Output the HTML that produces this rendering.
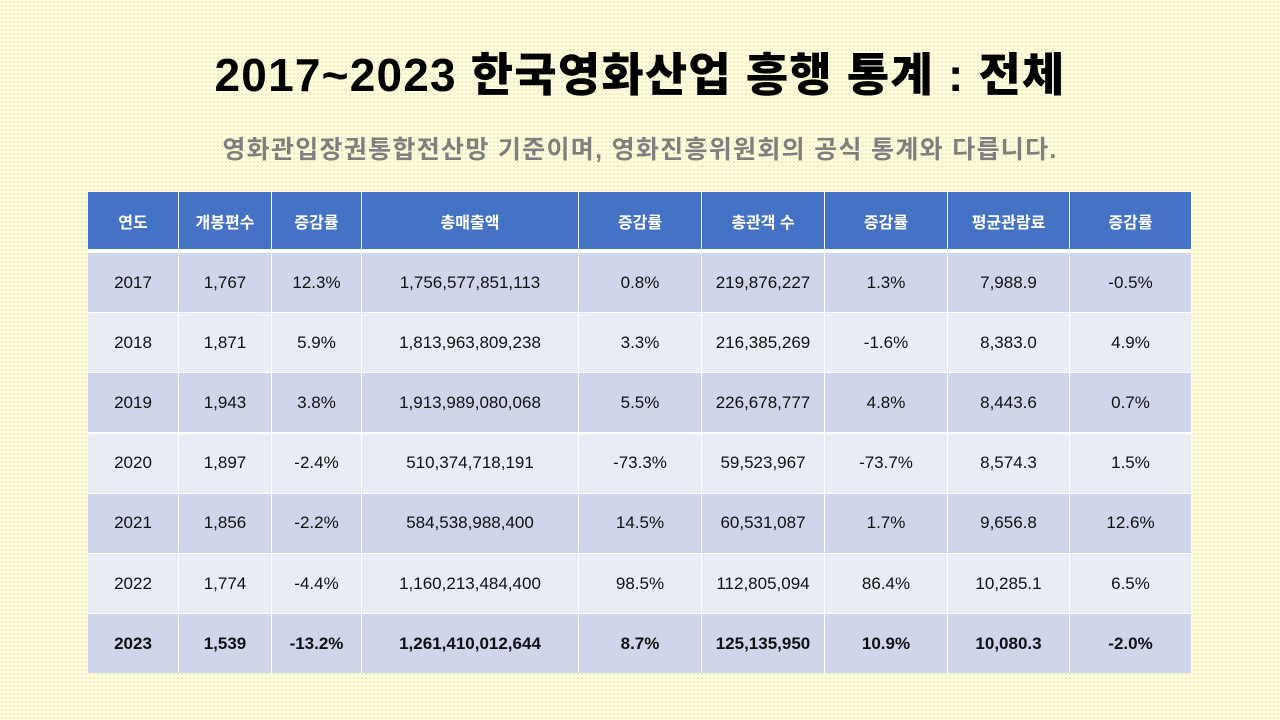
<!DOCTYPE html>
<html><head><meta charset="utf-8">
<style>
body{margin:0;width:1280px;height:720px;overflow:hidden;font-family:"Liberation Sans","Noto Sans CJK KR",sans-serif;
background-color:#fdfbe0;background-image:radial-gradient(#f0eaa8 0.8px,transparent 1px);background-size:4px 4px;position:relative}
h1{position:absolute;top:39px;left:0;width:1280px;margin:0;text-align:center;font-size:46px;font-weight:900;color:#000;letter-spacing:1.2px}
.sub{position:absolute;top:130px;left:0;width:1280px;text-align:center;font-size:25px;font-weight:bold;color:#7f7f7f;letter-spacing:1.3px}
.cell{position:absolute;display:flex;align-items:center;justify-content:center;font-size:17px;color:#111;box-sizing:border-box}
.hd{background:#4472c4;color:#fff;font-weight:bold;font-size:16px}
#tbl{position:absolute;left:88px;top:192px;width:1103px;height:481px;background:#fff}
</style></head><body>
<h1>2017~2023 한국영화산업 흥행 통계 : 전체</h1>
<div class="sub">영화관입장권통합전산망 기준이며, 영화진흥위원회의 공식 통계와 다릅니다.</div>
<div id="tbl"></div>
<script>
const headers=["연도","개봉편수","증감률","총매출액","증감률","총관객 수","증감률","평균관람료","증감률"];
const years=["2017","2018","2019","2020","2021","2022","2023"];
const releases=["1,767","1,871","1,943","1,897","1,856","1,774","1,539"];
const releaseChg=["12.3%","5.9%","3.8%","-2.4%","-2.2%","-4.4%","-13.2%"];
const revenue=["1,756,577,851,113","1,813,963,809,238","1,913,989,080,068","510,374,718,191","584,538,988,400","1,160,213,484,400","1,261,410,012,644"];
const revenueChg=["0.8%","3.3%","5.5%","-73.3%","14.5%","98.5%","8.7%"];
const audience=["219,876,227","216,385,269","226,678,777","59,523,967","60,531,087","112,805,094","125,135,950"];
const audienceChg=["1.3%","-1.6%","4.8%","-73.7%","1.7%","86.4%","10.9%"];
const avgFee=["7,988.9","8,383.0","8,443.6","8,574.3","9,656.8","10,285.1","10,080.3"];
const avgFeeChg=["-0.5%","4.9%","0.7%","1.5%","12.6%","6.5%","-2.0%"];
const cols=[years,releases,releaseChg,revenue,revenueChg,audience,audienceChg,avgFee,avgFeeChg];
const xs=[0,90,183,273,490,613,736,859,981,1103];
const t=document.getElementById('tbl');
function mk(x,y,w,h,txt,cls,bg){
  const d=document.createElement('div');
  d.className='cell '+cls;
  d.style.cssText=`left:${x}px;top:${y}px;width:${w}px;height:${h}px;`+(bg?`background:${bg};`:'');
  d.textContent=txt;t.appendChild(d);return d;}
headers.forEach((h,i)=>{
  const d=mk(xs[i]+(i?1:0),0,xs[i+1]-xs[i]-(i?1:0),57,h,'hd');
  
  
});
years.forEach((y,r)=>{
  const top=61+r*60.2;
  const bg=r%2?'#e9ebf5':'#cfd5ea';
  cols.forEach((c,i)=>{
    const d=mk(xs[i]+(i?1:0),top,xs[i+1]-xs[i]-(i?1:0),59,c[r],'',bg);
    if(r===6)d.style.fontWeight='bold';
    
    
  });
});
</script>
</body></html>
